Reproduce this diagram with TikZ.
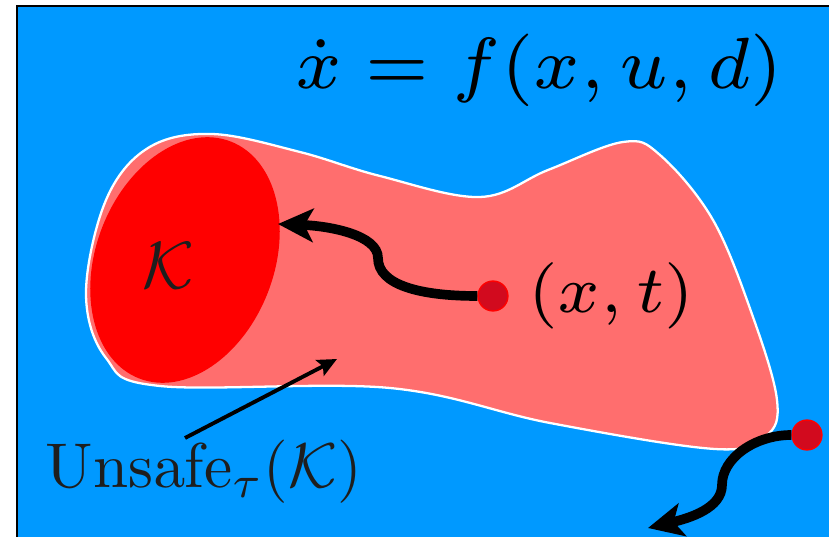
\documentclass[tikz,border=0pt]{standalone}
\usepackage{amsmath}
\usepackage{tikz}
\usetikzlibrary{arrows.meta, positioning, calc}
\definecolor{setBlue} {HTML}{0099FF}
\definecolor{setRed}  {HTML}{FF0000}
\definecolor{setPink} {HTML}{FF6E6E}
\definecolor{setDot}  {HTML}{D20A1E}
\definecolor{setInk}  {HTML}{1E1E1E}
\tikzset{
  state/.style   = {circle, fill=setDot, draw=setRed, line width=0.8pt,
                    minimum size=17pt, inner sep=0pt},
  traj/.style    = {line width=5.5pt, -{Stealth[length=20pt, width=19pt, inset=5pt]}},
  pointer/.style = {line width=2.2pt, -{Stealth[length=11pt, width=10pt, inset=2pt]}},
  bigmath/.style = {inner sep=0pt, font=\normalsize, scale=3.6},
  smallmath/.style = {inner sep=0pt, font=\fontsize{7}{8}\selectfont, scale=5.4},
}

\begin{document}
\begin{tikzpicture}[x=0.02cm, y=0.02cm]
\useasboundingbox (0,0) rectangle (829,-537);
\clip (0,0) rectangle (829,-537);

% State space
\draw[fill=setBlue, line width=1pt] (17,-6) rectangle (860,-560);

% Unsafe region
\filldraw[fill=setPink, draw=white, line width=1.3pt]
  plot[smooth cycle, tension=0.6] coordinates {
    (148,-148) (212,-134) (300,-152) (380,-176) (480,-197) (548,-170)
    (623,-142) (660,-155) (713,-220) (753,-317) (777,-400) (766,-436)
    (715,-449) (550,-423) (390,-388) (160,-386) (106,-358) (86,-293) (106,-200)};

% Target set
\fill[setRed, rotate around={69:(185,-260)}] (185,-260) ellipse [x radius=127, y radius=89];
\node[bigmath, scale=3.8/3.6, text=setInk] (K) at (168,-266) {$\mathcal{K}$};

% Dynamics
\node[smallmath, scale=5.9/5.4] (dyn) at (539,-70) {$\dot{x} = f(x,u,d)$};

% States
\node[state] (xt)   at (493,-296) {};
\node[smallmath, right=10pt of xt] (xtlabel) {$(x,t)$};
\node[state] (exit) at (807,-435) {};
\coordinate (Ktip)   at (278,-224);
\coordinate (outtip) at (648,-528);

% Trajectories
\draw[traj] (xt.west) .. controls (420,-296) and (378,-285) .. (378,-258)
  .. controls (378,-235) and (330,-226) .. (Ktip);
\draw[traj] (exit.west) .. controls (755,-435) and (722,-458) .. (722,-485)
  .. controls (722,-508) and (690,-518) .. (outtip);

% Label
\node[bigmath, text=setInk] (unsafe) at (204,-472) {$\mathrm{Unsafe}_{\tau}(\mathcal{K})$};
\coordinate (ptail) at (185,-438);
\coordinate (phead) at (337,-359);
\draw[pointer] (ptail) -- (phead);

\end{tikzpicture}
\end{document}
